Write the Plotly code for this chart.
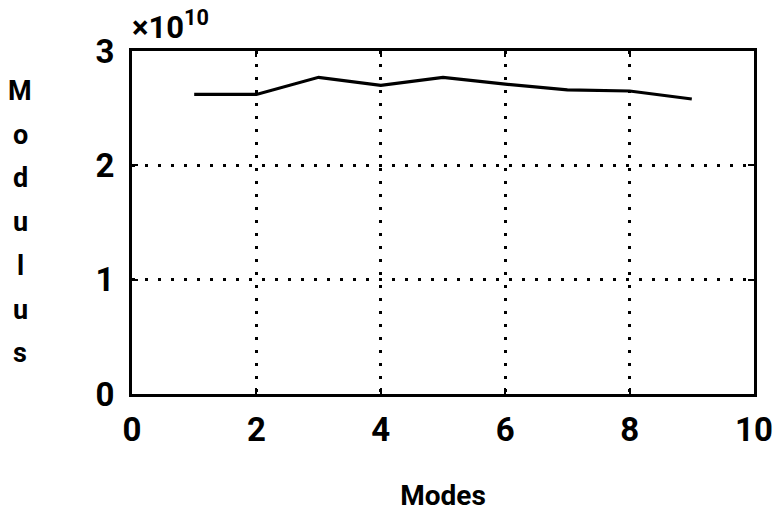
import plotly.graph_objects as go

modes = [1, 2, 3, 4, 5, 6, 7, 8, 9]
modulus = [2.62e10, 2.62e10, 2.77e10, 2.70e10, 2.77e10, 2.71e10, 2.66e10, 2.65e10, 2.58e10]
x_ticks = [0, 2, 4, 6, 8, 10]
y_ticks = [0, 1e10, 2e10, 3e10]
y_tick_labels = ["0", "1", "2", "3"]
y_title_letters = list("Modulus")

FONT = "Roboto, Liberation Sans Narrow, DejaVu Sans Condensed, sans-serif"

fig = go.Figure()
fig.add_trace(go.Scatter(x=modes, y=modulus, mode="lines",
                         line=dict(color="black", width=3.2), showlegend=False))

axis_common = dict(
    showline=True, linecolor="black", linewidth=3, mirror="ticks",
    ticks="inside", ticklen=6, tickwidth=2, tickcolor="black",
    showgrid=True, gridcolor="black", gridwidth=2.5, griddash="2.5px,10.5px",
    zeroline=False, automargin=False,
    tickfont=dict(family=FONT, size=33, color="black", weight="bold"),
)

fig.update_xaxes(range=[0, 10], tickvals=x_ticks, ticklabelstandoff=4,
                 title=dict(text="Modes", standoff=42,
                            font=dict(family=FONT, size=28, color="black", weight="bold")),
                 **axis_common)
fig.update_yaxes(range=[0, 3e10], tickvals=y_ticks, ticktext=y_tick_labels,
                 ticklabelstandoff=8, **axis_common)

annotations = [dict(text="×10<sup>10</sup>", xref="paper", yref="paper", x=0.0, y=1.0,
                    xanchor="left", yanchor="bottom", xshift=-2, yshift=3, showarrow=False,
                    font=dict(family=FONT, size=31, color="black", weight="bold"))]
for i, ch in enumerate(y_title_letters):
    annotations.append(dict(text=ch, xref="paper", yref="paper", x=0, y=1,
                            xanchor="center", yanchor="middle",
                            xshift=-112, yshift=-40 - i * 43.7,
                            showarrow=False,
                            font=dict(family=FONT, size=27, color="black", weight="bold")))

fig.update_layout(
    width=774, height=512,
    margin=dict(l=132, r=20, t=51, b=118),
    paper_bgcolor="white", plot_bgcolor="white",
    annotations=annotations,
)

fig.write_html("out.html", config={"displayModeBar": False},
               post_script="document.body.style.margin='0px';document.body.style.overflow='hidden';")
